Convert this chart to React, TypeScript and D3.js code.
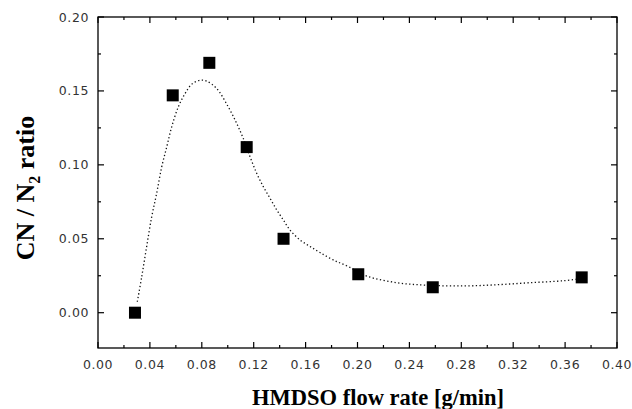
import * as d3 from "d3";

// measured points
const flowRate = [0.0285, 0.0576, 0.0858, 0.1146, 0.143, 0.2006, 0.258, 0.3728];
const cnRatio = [0.0, 0.147, 0.169, 0.112, 0.05, 0.026, 0.0172, 0.0239];

// dotted fit curve
const fitX = [0.0303, 0.0337, 0.0375, 0.0414, 0.0452, 0.0491, 0.053, 0.0568, 0.0619, 0.0671, 0.0722, 0.0786, 0.0838, 0.0915, 0.1004, 0.1069, 0.112, 0.1172, 0.1223, 0.1274, 0.1326, 0.1377, 0.1428, 0.148, 0.1557, 0.1634, 0.1711, 0.1813, 0.1929, 0.2071, 0.2302, 0.2533, 0.2815, 0.3073, 0.333, 0.3586, 0.372];
const fitY = [0.0074, 0.0243, 0.0447, 0.0649, 0.0807, 0.0986, 0.1122, 0.1257, 0.1392, 0.1482, 0.1545, 0.1572, 0.1566, 0.1516, 0.1392, 0.128, 0.1178, 0.1054, 0.0943, 0.0853, 0.0774, 0.0696, 0.0628, 0.0559, 0.0492, 0.0448, 0.0407, 0.0357, 0.0312, 0.0248, 0.0203, 0.0186, 0.0181, 0.0189, 0.0203, 0.0216, 0.023];

const xTicks = [0, 0.04, 0.08, 0.12, 0.16, 0.2, 0.24, 0.28, 0.32, 0.36, 0.4];
const yTicks = [0, 0.05, 0.1, 0.15, 0.2];

export default function App() {
  const width = 632;
  const height = 409;
  const left = 98, right = 617, top = 17, bottom = 348;

  const x = d3.scaleLinear([0, 0.4], [left, right]);
  const y = d3.scaleLinear([0, 0.2], [312.7, top]);

  const xMinor = d3.range(0.02, 0.4, 0.04);
  const yMinor = [-0.025, 0.025, 0.075, 0.125, 0.175].filter(v => y(v) < bottom);

  const fit = d3.line<number>()
    .x((d, i) => x(fitX[i]))
    .y((d, i) => y(fitY[i]))
    .curve(d3.curveCatmullRom)(fitY);

  const tickFont = "'DejaVu Sans', sans-serif";
  const titleFont = "'Liberation Serif', 'Times New Roman', serif";

  return (
    <svg width={width} height={height} style={{ position: "absolute", left: 0, top: 0, background: "#fff" }}>
      {/* frame */}
      <rect x={left} y={top} width={right - left} height={bottom - top} fill="none" stroke="#000" strokeWidth={1.3} />

      {/* x ticks, bottom and top, pointing inward */}
      {xTicks.map(t => (
        <g key={"xt" + t}>
          <line x1={x(t)} x2={x(t)} y1={bottom} y2={bottom - 6} stroke="#000" strokeWidth={1.2} />
          <line x1={x(t)} x2={x(t)} y1={top} y2={top + 6} stroke="#000" strokeWidth={1.2} />
          <text x={x(t)} y={369} textAnchor="middle" fontFamily={tickFont} fontSize={12.5} letterSpacing={0.6} fill="#333">
            {d3.format(".2f")(t)}
          </text>
        </g>
      ))}
      {xMinor.map(t => (
        <g key={"xm" + t}>
          <line x1={x(t)} x2={x(t)} y1={bottom} y2={bottom - 3} stroke="#000" strokeWidth={1.2} />
          <line x1={x(t)} x2={x(t)} y1={top} y2={top + 3} stroke="#000" strokeWidth={1.2} />
        </g>
      ))}

      {/* y ticks, left and right */}
      {yTicks.map(t => (
        <g key={"yt" + t}>
          <line x1={left} x2={left + 6} y1={y(t)} y2={y(t)} stroke="#000" strokeWidth={1.2} />
          <line x1={right} x2={right - 6} y1={y(t)} y2={y(t)} stroke="#000" strokeWidth={1.2} />
          <text x={89} y={y(t) + 4.5} textAnchor="end" fontFamily={tickFont} fontSize={12.5} letterSpacing={0.6} fill="#333">
            {d3.format(".2f")(t)}
          </text>
        </g>
      ))}
      {yMinor.map(t => (
        <g key={"ym" + t}>
          <line x1={left} x2={left + 3} y1={y(t)} y2={y(t)} stroke="#000" strokeWidth={1.2} />
          <line x1={right} x2={right - 3} y1={y(t)} y2={y(t)} stroke="#000" strokeWidth={1.2} />
        </g>
      ))}

      {/* fit curve */}
      <path d={fit || ""} fill="none" stroke="#111" strokeWidth={1.3} strokeDasharray="1.3,2.4" />

      {/* data squares */}
      {flowRate.map((v, i) => (
        <rect key={"p" + i} x={x(v) - 6} y={y(cnRatio[i]) - 6} width={12} height={12} fill="#000" />
      ))}

      {/* titles */}
      <text x={378} y={405} textAnchor="middle" fontFamily={titleFont} fontSize={22.5} fontWeight="bold" fill="#000">
        HMDSO flow rate [g/min]
      </text>
      <text transform="translate(34,188) rotate(-90)" textAnchor="middle" fontFamily={titleFont} fontSize={26} fontWeight="bold" fill="#000">
        CN / N<tspan fontSize={16} dy={6}>2</tspan><tspan dy={-6}> ratio</tspan>
      </text>
    </svg>
  );
}
